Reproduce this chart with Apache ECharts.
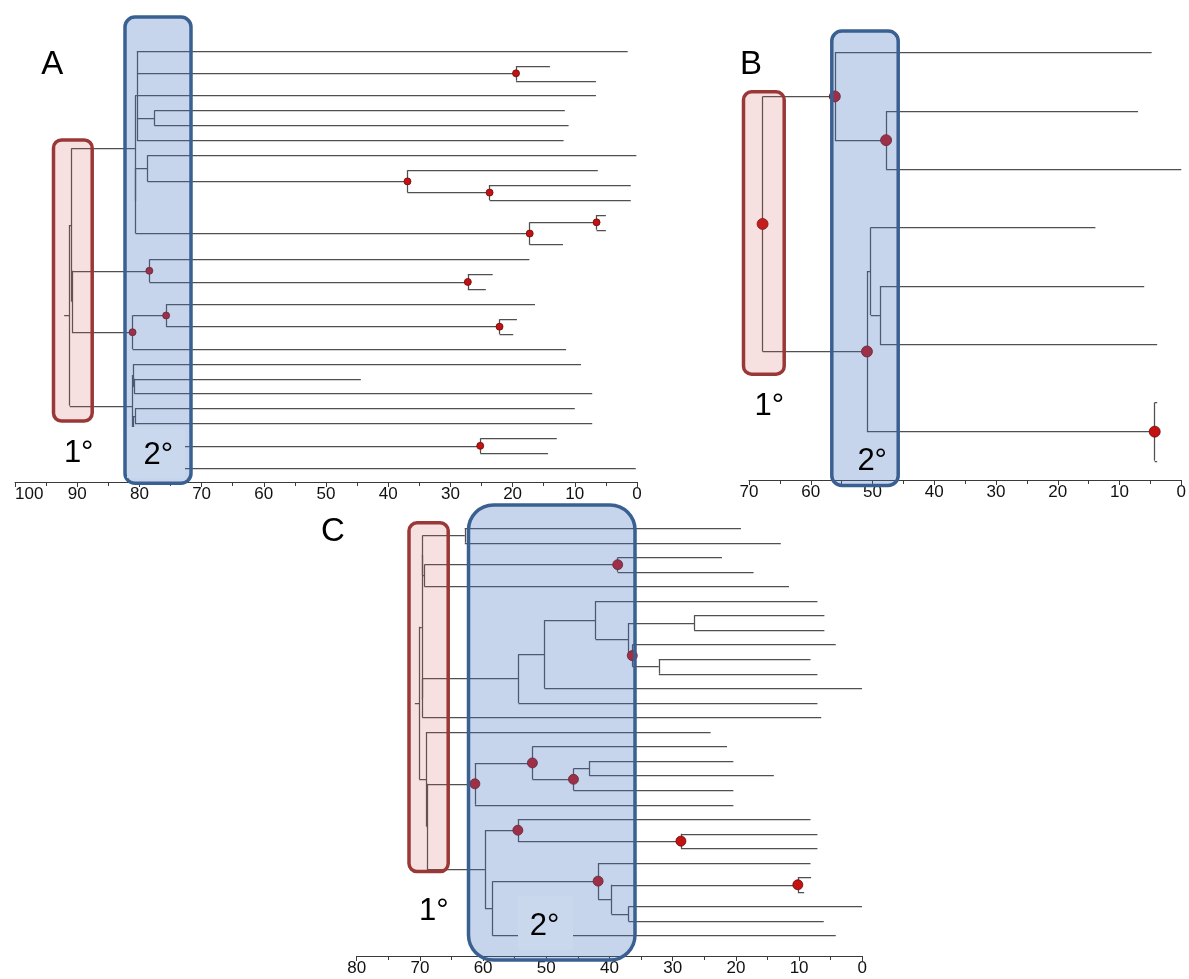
<!DOCTYPE html>
<html><head><meta charset="utf-8">
<script src="https://cdn.jsdelivr.net/npm/echarts@6/dist/echarts.min.js"></script>
<style>html,body{margin:0;padding:0;background:#fff}#c{width:1189px;height:979px}</style>
</head><body><div id="c"></div>
<script>
// ===== DATA =====
// Tip ages (Ma) of leaves, top to bottom
const tipsA = [1.5,14.0,6.6,6.6,11.6,11.0,11.8,0.1,6.3,1.0,1.0,5.0,5.0,11.9,17.3,23.2,24.3,16.4,19.3,19.9,11.4,9.0,44.4,7.2,10.0,7.2,12.9,14.3,0.2];
// Internal nodes: [age, marked(1/0), child ids...]; leaves are 0..n-1, nodes are n, n+1, ... (root last)
const nodesA = [
  [19.45,1,1,2],[77.6,0,4,5],[80.4,0,0,29,3,30,6],[23.7,1,9,10],[36.9,1,8,32],[78.7,0,7,33],
  [6.5,1,11,12],[17.25,1,35,13],[80.6,0,34,36],[80.7,0,31,37],[27.2,1,15,16],[78.4,1,14,39],
  [22.1,1,18,19],[75.7,1,17,41],[81.1,1,42,20],[90.85,0,40,43],[90.9,0,38,44],[80.8,0,22,23],
  [81.0,0,21,46],[80.7,0,24,25],[25.2,1,26,27],[80.9,0,49,28],[81.0,0,48,50],[81.1,0,47,51],
  [91.2,0,45,52]
];
const rootStubA = 92.1;

const tipsB = [4.8,7.0,0.0,13.9,6.0,3.9,3.9,3.9];
const nodesB = [[47.8,1,1,2],[56.1,1,0,8],[48.8,0,4,5],[50.3,0,3,10],[4.3,1,6,7],[50.9,1,11,12],[67.8,1,9,13]];
const rootStubB = 67.8;

const tipsC = [19.2,12.9,22.2,17.2,11.6,7.1,6.0,6.0,4.2,8.2,7.1,0.05,7.1,6.5,24.0,21.4,20.4,14.0,20.4,20.4,8.2,7.1,7.1,8.2,8.1,9.2,0.05,6.1,4.2];
const nodesC = [
  [62.9,0,0,1],[38.7,1,2,3],[69.3,0,30,4],[69.6,0,29,31],[26.6,0,6,7],[32.2,0,9,10],
  [36.4,1,8,34],[37.0,0,33,35],[42.2,0,5,36],[50.3,0,37,11],[54.4,0,38,12],[69.6,0,39,13],
  [69.7,0,32,40],[43.2,0,16,17],[45.7,1,42,18],[52.2,1,15,43],[61.3,1,44,19],[28.7,1,21,22],
  [54.5,1,20,46],[10.2,1,24,25],[37.0,0,26,27],[39.7,0,48,49],[41.8,1,23,50],[58.5,0,51,28],
  [59.7,0,47,52],[68.9,0,45,53],[68.95,0,14,54],[70.1,0,41,55]
];
const rootStubC = 70.8;

const axisMax = [100, 70, 80];
const panelLetters = ['A','B','C'];

// ===== BUILD =====
function buildTree(tips, nodes, stub) {
  const n = tips.length;
  const age = tips.slice();
  const y = tips.map((_, i) => i);
  const segs = [], marks = [];
  nodes.forEach((nd, k) => {
    const id = n + k, a = nd[0], kids = nd.slice(2);
    age[id] = a;
    const y1 = y[kids[0]], y2 = y[kids[kids.length - 1]];
    y[id] = (y1 + y2) / 2;
    segs.push({coords: [[a, y1], [a, y2]]});
    kids.forEach(c => segs.push({coords: [[a, y[c]], [age[c], y[c]]]}));
    if (nd[1]) marks.push([a, y[id]]);
  });
  const r = n + nodes.length - 1;
  if (stub > age[r]) segs.push({coords: [[stub, y[r]], [age[r], y[r]]]});
  return {segs, marks};
}

const layout = [
  {left: 15, right: 637, top: 15, axisY: 482, y0: 51, dy: 14.9, dot: 7, alignMax: 'left'},
  {left: 749, right: 1185, top: 25, axisY: 480, y0: 52.7, dy: 58.3, dot: 11, alignMax: 'center'},
  {left: 356.7, right: 862.3, top: 505, axisY: 956, y0: 528.3, dy: 14.55, dot: 10, alignMax: 'center'}
];
const trees = [
  buildTree(tipsA, nodesA, rootStubA),
  buildTree(tipsB, nodesB, rootStubB),
  buildTree(tipsC, nodesC, rootStubC)
];

const FONT = '"Liberation Sans", Arial, sans-serif';
const grid = [], xAxis = [], yAxis = [], series = [];
layout.forEach((L, i) => {
  grid.push({left: L.left, top: L.top, width: L.right - L.left, height: L.axisY - L.top, containLabel: false});
  xAxis.push({
    type: 'value', gridIndex: i, inverse: true, min: 0, max: axisMax[i], interval: 10,
    axisLine: {show: true, onZero: false, lineStyle: {color: '#3a3a3a', width: 1}},
    axisTick: {show: true, length: 5, lineStyle: {color: '#3a3a3a', width: 1}},
    minorTick: {show: true, splitNumber: 2, length: 4, lineStyle: {color: '#3a3a3a', width: 1}},
    axisLabel: {fontSize: 17, color: '#111', margin: 4, fontFamily: FONT, alignMaxLabel: L.alignMax},
    splitLine: {show: false}
  });
  yAxis.push({
    type: 'value', gridIndex: i, inverse: true, show: false,
    min: -(L.y0 - L.top) / L.dy, max: (L.axisY - L.y0) / L.dy
  });
  series.push({
    type: 'lines', coordinateSystem: 'cartesian2d', xAxisIndex: i, yAxisIndex: i,
    silent: true, z: 2,
    lineStyle: {color: '#505050', width: 1.25, opacity: 1},
    data: trees[i].segs
  });
  series.push({
    type: 'scatter', xAxisIndex: i, yAxisIndex: i, silent: true, z: 3,
    symbol: 'circle', symbolSize: L.dot,
    itemStyle: {color: '#c41212', borderColor: '#6a0a0a', borderWidth: 0.8, opacity: 1},
    data: trees[i].marks
  });
});

// ===== ANNOTATIONS (boxes + labels) =====
function box(x1, y1, x2, y2, r, fill, stroke) {
  return {type: 'rect', z: 50, silent: true,
    shape: {x: x1, y: y1, width: x2 - x1, height: y2 - y1, r: r},
    style: {fill: fill, stroke: stroke, lineWidth: 3.5}};
}
const PINK = 'rgba(205,85,85,0.18)', RED = '#9a3838';
const BLUE = 'rgba(65,115,192,0.30)', BLU = '#3a6091';
function txt(s, x, y, size) {
  return {type: 'text', z: 70, silent: true,
    style: {text: s, x: x, y: y, fill: '#000', font: size + 'px ' + FONT, textAlign: 'center', textVerticalAlign: 'middle'}};
}
function bg(x1, y1, x2, y2) {
  return {type: 'rect', z: 60, silent: true, shape: {x: x1, y: y1, width: x2 - x1, height: y2 - y1},
    style: {fill: '#cad8ed'}};
}
const graphic = [
  box(53.5, 140, 92.2, 421, 8, PINK, RED),
  box(125, 17, 191, 483.3, 10, BLUE, BLU),
  box(743.5, 91.8, 784.2, 374.2, 8, PINK, RED),
  box(831.8, 31, 898.2, 485.5, 10, BLUE, BLU),
  box(409, 522.8, 448.2, 871.5, 8, PINK, RED),
  box(468.5, 505, 635, 960, 25, BLUE, BLU),
  bg(127, 427, 185, 478),
  bg(518, 896, 573, 950),
  txt(panelLetters[0], 52.3, 65, 33),
  txt(panelLetters[1], 751, 65, 33),
  txt(panelLetters[2], 333, 532, 33),
  txt('1°', 78.7, 453, 31),
  txt('2°', 158.3, 455, 31),
  txt('1°', 769.3, 406, 31),
  txt('2°', 872.2, 461, 31),
  txt('1°', 433.8, 911, 31),
  txt('2°', 544.5, 926, 31)
];

const chart = echarts.init(document.getElementById('c'), null, {renderer: 'canvas'});
chart.setOption({
  animation: false,
  backgroundColor: '#fff',
  grid: grid, xAxis: xAxis, yAxis: yAxis, series: series,
  graphic: {elements: graphic}
});
</script></body></html>
